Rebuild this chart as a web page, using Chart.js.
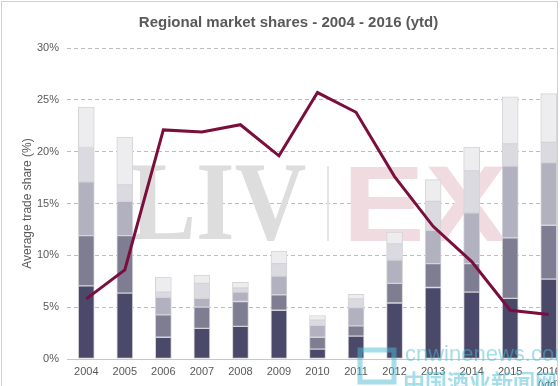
<!DOCTYPE html>
<html>
<head>
<meta charset="utf-8">
<script src="https://cdn.jsdelivr.net/npm/chart.js@4/dist/chart.umd.min.js"></script>
<style>
  html, body { margin: 0; padding: 0; background: #fff; overflow: hidden; }
  #clip { position: absolute; left: 0; top: 0; width: 557px; height: 386px; overflow: hidden; }
  #frame { position: absolute; left: 1px; top: 1px; width: 555px; height: 400px; border: 1px solid #d0d0d0; pointer-events: none; }
  #chart1 { position: absolute; left: 0; top: 0; }
</style>
</head>
<body>
<div id="clip">
  <canvas id="chart1" width="576" height="386"></canvas>
</div>
<div id="frame"></div>
<script>
// categories
const years = ['2004', '2005', '2006', '2007', '2008', '2009', '2010', '2011', '2012', '2013', '2014', '2015', ['2016', '(ytd)']];

// stacked bar segments, bottom to top (% of trade)
const region1 = [7.05, 6.35, 2.1, 2.95, 3.15, 4.7, 0.95, 2.2, 5.4, 6.9, 6.45, 5.85, 7.7];
const region2 = [4.85, 5.55, 2.15, 2.05, 2.4, 1.5, 1.15, 1.0, 1.9, 2.3, 2.75, 5.85, 5.2];
const region3 = [5.2, 3.3, 1.7, 0.85, 0.9, 1.8, 1.15, 1.75, 2.25, 3.2, 4.9, 6.9, 6.05];
const region4 = [3.3, 1.6, 0.5, 1.45, 0.4, 1.2, 0.5, 0.85, 1.55, 2.8, 4.05, 2.15, 1.95];
const region5 = [3.9, 4.6, 1.45, 0.8, 0.55, 1.2, 0.45, 0.45, 1.15, 2.1, 2.3, 4.55, 4.7];

// line series
const lineShare = [5.8, 8.6, 22.1, 21.9, 22.6, 19.6, 25.7, 23.8, 17.6, 12.8, 9.4, 4.7, 4.3];

// y axis ticks
const yMax = 30;
const yStep = 5;

const barColors = ['#4a4969', '#7e7d92', '#b2b1bf', '#dadae0', '#ededef'];

Chart.defaults.font.family = '"Liberation Sans", Arial, sans-serif';
Chart.defaults.color = '#595959';

// fits text into a box using its real ink bounds
function fitText(ctx, text, font, color, x0, y0, x1, y1) {
  ctx.save();
  ctx.font = font;
  ctx.textBaseline = 'alphabetic';
  ctx.textAlign = 'left';
  const m = ctx.measureText(text);
  const w = m.actualBoundingBoxLeft + m.actualBoundingBoxRight;
  const h = m.actualBoundingBoxAscent + m.actualBoundingBoxDescent;
  ctx.translate(x0, y0);
  ctx.scale((x1 - x0) / w, (y1 - y0) / h);
  ctx.fillStyle = color;
  ctx.fillText(text, m.actualBoundingBoxLeft, m.actualBoundingBoxAscent);
  ctx.restore();
}

const logoPlugin = {
  id: 'logo',
  beforeDatasetsDraw(chart) {
    const ctx = chart.ctx;
    fitText(ctx, 'LIV', 'bold 100px "Liberation Serif", "DejaVu Serif", serif', '#dddddd', 131, 166, 306, 241);
    ctx.save();
    ctx.fillStyle = '#e4e4e4';
    ctx.fillRect(327, 166, 2, 75);
    ctx.restore();
    fitText(ctx, 'EX', 'bold 100px "Liberation Sans", Arial, sans-serif', '#f0dbe1', 350, 166, 506, 241);
  }
};

const stampPlugin = {
  id: 'stamp',
  afterDraw(chart) {
    const ctx = chart.ctx;
    ctx.save();
    ctx.globalAlpha = 0.5;
    ctx.fillStyle = '#4cbdd4';
    ctx.font = '22px "Liberation Sans", Arial, sans-serif';
    ctx.textBaseline = 'alphabetic';
    ctx.fillText('cnwinenews.com', 405, 361);
    ctx.font = 'bold 22px "Noto Sans CJK SC", sans-serif';
    ctx.fillText('中国酒业新闻网', 403, 390);
    ctx.strokeStyle = '#4cbdd4';
    ctx.lineWidth = 5;
    ctx.strokeRect(360, 350, 34, 32);
    ctx.restore();
  }
};

const barSets = [region1, region2, region3, region4, region5].map((vals, i) => ({
  type: 'bar',
  label: 'Region ' + (i + 1),
  data: vals,
  backgroundColor: barColors[i],
  borderColor: '#d4d4d8',
  borderWidth: 1,
  borderSkipped: false,
  barThickness: 16,
  stack: 'share',
  order: 2
}));

new Chart(document.getElementById('chart1'), {
  data: {
    labels: years,
    datasets: [
      {
        type: 'line',
        label: 'Share',
        data: lineShare,
        borderColor: '#7a0e3c',
        borderWidth: 3,
        pointRadius: 0,
        tension: 0,
        fill: false,
        stack: 'line',
        order: 1
      },
      ...barSets
    ]
  },
  options: {
    responsive: false,
    animation: false,
    devicePixelRatio: 1,
    layout: { padding: { left: 9, right: 8, top: 0, bottom: 0 } },
    plugins: {
      legend: { display: false },
      tooltip: { enabled: false },
      title: {
        display: true,
        text: 'Regional market shares - 2004 - 2016 (ytd)',
        color: '#595959',
        font: { size: 15, weight: 'bold' },
        padding: { top: 14, bottom: 16 }
      }
    },
    scales: {
      x: {
        stacked: true,
        grid: { display: false, drawTicks: false },
        border: { display: false },
        ticks: { padding: 6, font: { size: 11 }, color: '#595959', maxRotation: 0, autoSkip: false },
        afterFit(scale) { scale.height = 27; }
      },
      y: {
        stacked: true,
        min: 0,
        max: yMax,
        grid: {
          color: ctx => ctx.tick && ctx.tick.value === 0 ? '#c8c8c8' : '#bdbdbd',
          drawTicks: false
        },
        border: {
          display: false,
          dash: ctx => ctx.tick && ctx.tick.value === 0 ? [] : [4, 3]
        },
        ticks: {
          stepSize: yStep,
          padding: 8,
          font: { size: 11 },
          color: '#595959',
          callback: v => v + '%'
        },
        title: {
          display: true,
          text: 'Average trade share (%)',
          font: { size: 12 },
          color: '#595959',
          padding: { top: 11, bottom: 0 }
        },
        afterFit(scale) { scale.width = 58; }
      }
    }
  },
  plugins: [logoPlugin, stampPlugin]
});
</script>
</body>
</html>
